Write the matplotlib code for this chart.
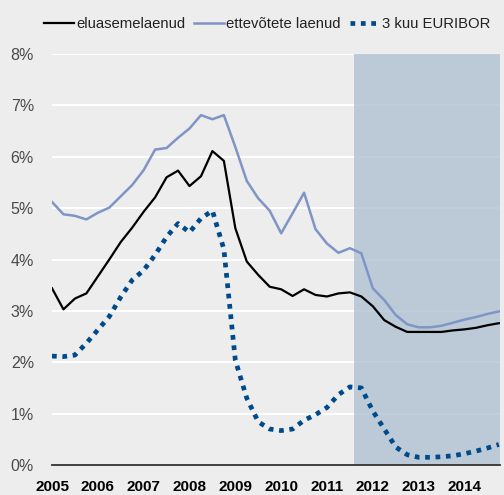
import numpy as np
import matplotlib
matplotlib.use("Agg")
import matplotlib.pyplot as plt

# quarterly data, 2005Q1 .. 2014Q4
years = [str(y) for y in range(2005, 2015)]
eluasemelaenud = [3.44, 3.03, 3.24, 3.34, 3.67, 4.00, 4.34, 4.62, 4.93, 5.21,
                  5.60, 5.73, 5.43, 5.62, 6.11, 5.92, 4.61, 3.96, 3.70, 3.47,
                  3.42, 3.29, 3.42, 3.31, 3.28, 3.34, 3.36, 3.28, 3.09, 2.82,
                  2.69, 2.59, 2.59, 2.59, 2.59, 2.62, 2.64, 2.67, 2.72, 2.76]
ettevotete = [5.12, 4.88, 4.85, 4.78, 4.91, 5.01, 5.23, 5.45, 5.74, 6.14,
              6.17, 6.37, 6.55, 6.81, 6.73, 6.81, 6.19, 5.53, 5.19, 4.95,
              4.51, 4.90, 5.30, 4.59, 4.31, 4.13, 4.22, 4.12, 3.44, 3.21,
              2.92, 2.74, 2.68, 2.68, 2.71, 2.77, 2.83, 2.88, 2.94, 2.99]
euribor = [2.12, 2.11, 2.14, 2.37, 2.63, 2.89, 3.27, 3.60, 3.79, 4.09,
           4.44, 4.70, 4.53, 4.80, 4.95, 4.20, 2.04, 1.30, 0.84, 0.70,
           0.67, 0.70, 0.87, 0.98, 1.12, 1.37, 1.52, 1.50, 1.05, 0.70,
           0.35, 0.20, 0.15, 0.15, 0.16, 0.18, 0.22, 0.27, 0.33, 0.40]
forecast_start = 26.4  # shaded forecast period

bg = "#ecedec"
plt.rcParams["font.family"] = ["Liberation Sans", "DejaVu Sans"]

fig = plt.figure(figsize=(5.04, 4.95), dpi=100, facecolor=bg)
ax = fig.add_axes([52 / 504, 1 - 465 / 495, 448 / 504, (465 - 54) / 495])
ax.set_facecolor(bg)

x = np.arange(len(eluasemelaenud))

for v in range(1, 9):
    ax.axhline(v, color="white", lw=1.5, zorder=1)
ax.axvspan(forecast_start, 39.2, ymin=0, ymax=1, color="#b0c2d4", alpha=0.8,
           lw=0, zorder=1.5)

ax.plot(x, eluasemelaenud, color="black", lw=1.6, zorder=3, label="eluasemelaenud")
ax.plot(x, ettevotete, color="#7f95c5", lw=1.8, zorder=3, label="ettevõtete laenud")
ax.plot(x, euribor, color="#004a8c", lw=3.4, linestyle=(0, (1, 1.2)),
        dash_capstyle="butt", zorder=3, label="3 kuu EURIBOR")

ax.set_xlim(0, 39.1)
ax.set_ylim(0, 8)
ax.set_yticks(range(0, 9))
ax.set_yticklabels([f"{v}%" for v in range(0, 9)], fontsize=11.5, color="#4a4a4a")
ax.set_xticks(range(0, 40, 4))
ax.set_xticklabels(years, fontsize=11, fontweight="bold", color="black")
ax.tick_params(length=0)
ax.tick_params(axis="y", pad=13)
ax.tick_params(axis="x", pad=11)

for s in ["top", "right", "left"]:
    ax.spines[s].set_visible(False)
ax.spines["bottom"].set_color("#333333")
ax.spines["bottom"].set_linewidth(1.3)
ax.spines["bottom"].set_zorder(4)

fig.legend(loc="center", bbox_to_anchor=(0.53, 1 - 24 / 495), ncol=3, frameon=False,
           fontsize=10.7, handlelength=2.0, handletextpad=0.15, columnspacing=0.6,
           labelcolor="#222222")

fig.savefig("out.png", dpi=100, facecolor=bg)
